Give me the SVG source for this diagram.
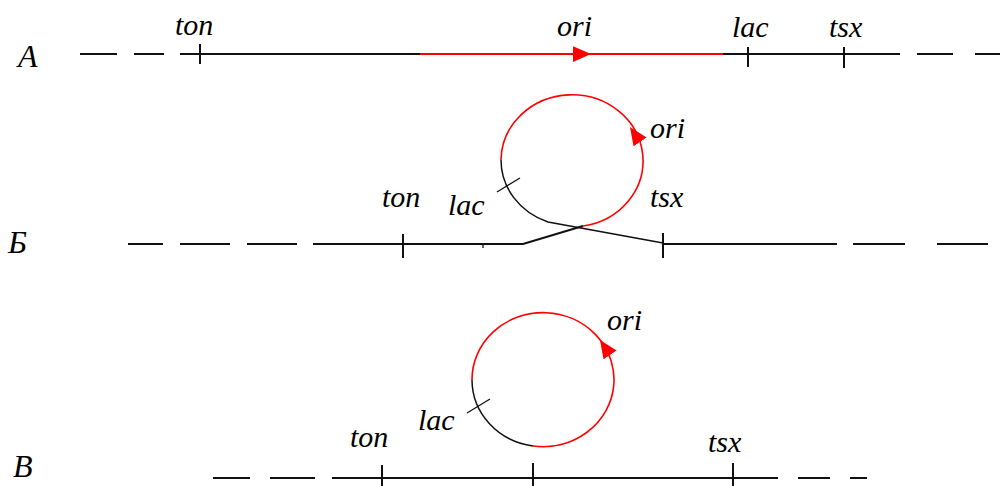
<svg xmlns="http://www.w3.org/2000/svg" width="1000" height="486" viewBox="0 0 1000 486">
  <defs>
    <marker id="arr" markerUnits="userSpaceOnUse" markerWidth="18" markerHeight="16" refX="16" refY="7" orient="auto" viewBox="0 0 16 14">
      <path d="M0,0 L16,7 L0,14 Z" fill="#ff0000"/>
    </marker>
  </defs>
  <rect width="1000" height="486" fill="#ffffff"/>

  <!-- Row A -->
  <g id="row-A">
    <g fill="none" stroke="#111" stroke-width="2">
      <path d="M80,54 H117 M134,54 H164 M180,54 H420 M723,54 H900 M917,54 H953 M975,54 H1000"/>
      <path d="M200,44 V64 M748,47 V67 M844,47 V68"/>
    </g>
    <path d="M420,54 H723" fill="none" stroke="#ff0000" stroke-width="2"/>
    <path d="M581,54 L591,54" fill="none" stroke="none" marker-end="url(#arr)"/>
    <g font-family="Liberation Serif" font-style="italic" font-size="30" fill="#000">
      <text x="18" y="67" font-size="32">А</text>
      <text x="175" y="35">ton</text>
      <text x="557" y="36">ori</text>
      <text x="732" y="37">lac</text>
      <text x="829" y="37">tsx</text>
    </g>
  </g>

  <!-- Row B (Б) -->
  <g id="row-B">
    <g fill="none" stroke="#111" stroke-width="2">
      <path d="M128,244 H163 M180,244 H230 M247,244 H297 M313,244 H523 L583,226"/>
      <path d="M663,244 H837 M853,244 H905 M937,244 H988"/>
      <path d="M403,234 V258 M663,233 V258"/>
    </g>
    <path d="M583,226 A71,66 0 1 0 501,160" fill="none" stroke="#ff0000" stroke-width="1.6"/>
    <path d="M501,160 A71,66 0 0 0 548,222 L663,243" fill="none" stroke="#111" stroke-width="1.5"/>
    <path d="M483,244 V248 M497,192 L520,178" fill="none" stroke="#111" stroke-width="1.3"/>
    <path d="M635.6,135.3 L630,127" fill="none" stroke="none" marker-end="url(#arr)"/>
    <g font-family="Liberation Serif" font-style="italic" font-size="30" fill="#000">
      <text x="8" y="253" font-size="32">Б</text>
      <text x="382" y="207">ton</text>
      <text x="448" y="215">lac</text>
      <text x="650" y="138">ori</text>
      <text x="650" y="207">tsx</text>
    </g>
  </g>

  <!-- Row C (В) -->
  <g id="row-C">
    <g fill="none" stroke="#111" stroke-width="2">
      <path d="M213,478 H250 M270,478 H315 M332,478 H778 M798,478 H830 M850,478 H867"/>
      <path d="M382,465 V486 M533,463 V486 M733,463 V486"/>
    </g>
    <path d="M533,446 A71,67 0 1 0 472,380" fill="none" stroke="#ff0000" stroke-width="1.6"/>
    <path d="M472,380 A71,67 0 0 0 533,446" fill="none" stroke="#111" stroke-width="1.5"/>
    <path d="M467,413 L490,399" fill="none" stroke="#111" stroke-width="1.3"/>
    <path d="M605.6,348.3 L600,340" fill="none" stroke="none" marker-end="url(#arr)"/>
    <g font-family="Liberation Serif" font-style="italic" font-size="30" fill="#000">
      <text x="13" y="477" font-size="32">В</text>
      <text x="350" y="447">ton</text>
      <text x="418" y="430">lac</text>
      <text x="607" y="330">ori</text>
      <text x="708" y="452">tsx</text>
    </g>
  </g>
</svg>
